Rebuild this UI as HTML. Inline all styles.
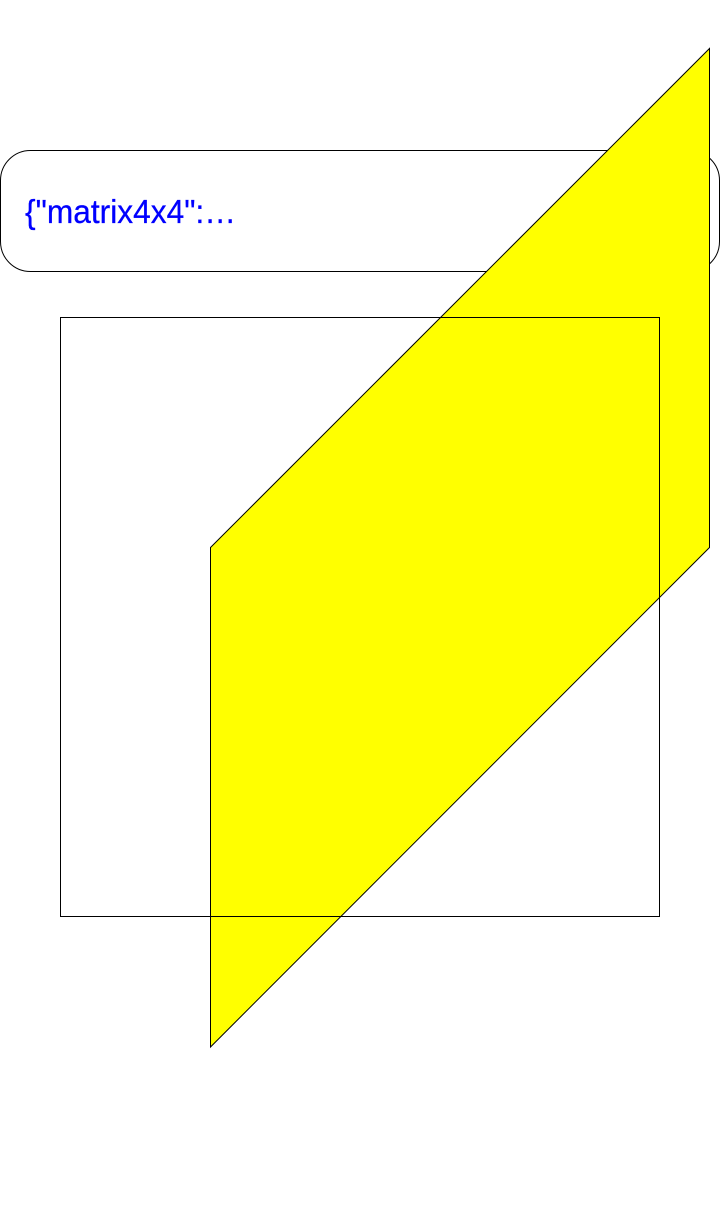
<!DOCTYPE html>
<html lang="en">
<head>
<meta charset="utf-8">
<title>Matrix transform demo</title>
<style>
html,body{margin:0;padding:0;width:720px;height:1220px;background:#fff;overflow:hidden}
svg{display:block;position:absolute;left:0;top:0}
text{font-family:"Liberation Sans",sans-serif;font-size:33px;fill:#0000ff;stroke:#0000ff;stroke-width:.25px}
</style>
</head>
<body>
<svg width="720" height="1220" viewBox="0 0 720 1220">
  <rect x="0.5" y="150.5" width="719" height="121" rx="30" ry="30" fill="#fff" stroke="#000" stroke-width="1"/>
  <text x="25" y="223" textLength="211" lengthAdjust="spacingAndGlyphs">{"matrix4x4":…</text>
  <polygon points="210.5,547.5 709.5,48.5 709.5,547.5 210.5,1047" fill="#ffff00" stroke="#000" stroke-width="1"/>
  <rect x="60.5" y="317.5" width="599" height="599" fill="none" stroke="#000" stroke-width="1"/>
</svg>
</body>
</html>
